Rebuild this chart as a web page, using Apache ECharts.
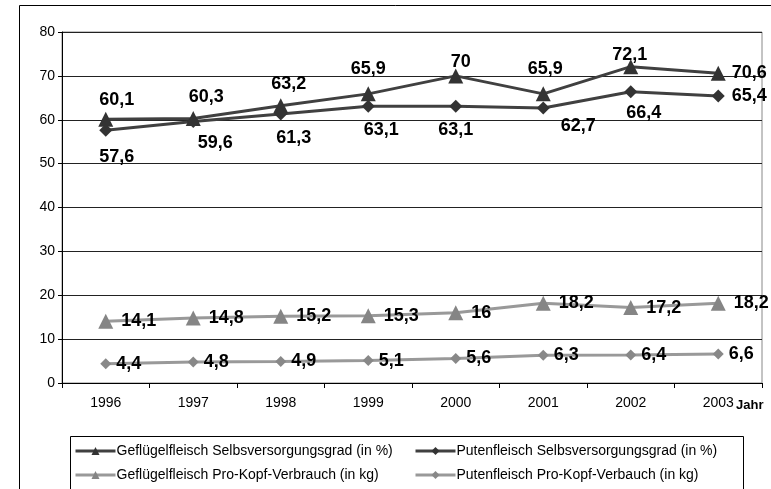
<!DOCTYPE html>
<html>
<head>
<meta charset="utf-8">
<script src="https://cdn.jsdelivr.net/npm/echarts@6/dist/echarts.min.js"></script>
<style>
  html, body { margin: 0; padding: 0; background: #fff; }
  #chart { width: 771px; height: 489px; }
</style>
</head>
<body>
<div id="chart"></div>
<script>
// categories (years)
const years = ["1996", "1997", "1998", "1999", "2000", "2001", "2002", "2003"];

// series values
const gefluegelSvg = [60.1, 60.3, 63.2, 65.9, 70, 65.9, 72.1, 70.6];
const putenSvg = [57.6, 59.6, 61.3, 63.1, 63.1, 62.7, 66.4, 65.4];
const gefluegelPkv = [14.1, 14.8, 15.2, 15.3, 16, 18.2, 17.2, 18.2];
const putenPkv = [4.4, 4.8, 4.9, 5.1, 5.6, 6.3, 6.4, 6.6];

const seriesNames = [
  "Geflügelfleisch Selbsversorgungsgrad (in %)",
  "Putenfleisch Selbsversorgungsgrad (in %)",
  "Geflügelfleisch Pro-Kopf-Verbrauch (in kg)",
  "Putenfleisch Pro-Kopf-Verbauch (in kg)"
];

// label nudges, as in the original excel layout
const svgTopOffsets = [[11, 2], [13, 0], [8, 0], [0, -3], [5, 8], [2, -3], [-1, 10]];
const svgBottomOffsets = [[11, 6], [22, 1], [13, 3], [13, 3], [0, 3], [35, -2], [13, 1]];

const fmt = (p) => String(p.value).replace(".", ",");
const labelFont = {
  fontFamily: "Liberation Sans, Arial, sans-serif",
  fontWeight: "bold",
  fontSize: 18,
  color: "#000"
};

function withLabels(values, position, offsets, lastDistance) {
  return values.map((v, i) => {
    if (i === values.length - 1 && lastDistance != null) {
      return { value: v, label: { position: "right", distance: lastDistance } };
    }
    if (offsets) {
      return { value: v, label: { position: position, offset: offsets[i] } };
    }
    return v;
  });
}

var chart = echarts.init(document.getElementById("chart"));

const legendBase = {
  orient: "vertical",
  top: 443,
  padding: 0,
  height: 46,
  itemWidth: 40,
  itemHeight: 10,
  itemGap: 8,
  lineStyle: { width: 3 },
  textStyle: { fontSize: 14, color: "#000", lineHeight: 16, padding: [0, 0, 0, -4] }
};

const option = {
  animation: false,
  textStyle: { fontFamily: "Liberation Sans, Arial, sans-serif" },
  grid: { left: 62, top: 32, right: 9, bottom: 106, show: true, borderColor: "#888", borderWidth: 1 },
  legend: [
    Object.assign({ data: [seriesNames[0], seriesNames[2]], left: 74 }, legendBase),
    Object.assign({ data: [seriesNames[1], seriesNames[3]], left: 414 }, legendBase)
  ],
  xAxis: {
    type: "category",
    data: years,
    boundaryGap: true,
    axisLine: { lineStyle: { color: "#000", width: 1 } },
    axisTick: { show: true, length: 5, lineStyle: { color: "#000" } },
    axisLabel: { color: "#000", fontSize: 14, margin: 13 }
  },
  yAxis: {
    type: "value",
    min: 0,
    max: 80,
    interval: 10,
    axisLine: { show: true, lineStyle: { color: "#000", width: 1 } },
    axisTick: { show: true, length: 4, lineStyle: { color: "#000" } },
    axisLabel: { color: "#000", fontSize: 14, margin: 7 },
    splitLine: { lineStyle: { color: "#222", width: 1 } }
  },
  series: [
    {
      name: seriesNames[0],
      type: "line",
      symbol: "triangle",
      symbolSize: 15,
      itemStyle: { color: "#333" },
      lineStyle: { color: "#404040", width: 3 },
      label: Object.assign({ show: true, position: "top", formatter: fmt }, labelFont),
      data: withLabels(gefluegelSvg, "top", svgTopOffsets, 6)
    },
    {
      name: seriesNames[1],
      type: "line",
      symbol: "diamond",
      symbolSize: 13,
      itemStyle: { color: "#333" },
      lineStyle: { color: "#404040", width: 3 },
      label: Object.assign({ show: true, position: "bottom", formatter: fmt }, labelFont),
      data: withLabels(putenSvg, "bottom", svgBottomOffsets, 7)
    },
    {
      name: seriesNames[2],
      type: "line",
      symbol: "triangle",
      symbolSize: 15,
      itemStyle: { color: "#858585" },
      lineStyle: { color: "#999", width: 3 },
      label: Object.assign({ show: true, position: "right", distance: 8, formatter: fmt }, labelFont),
      data: gefluegelPkv
    },
    {
      name: seriesNames[3],
      type: "line",
      symbol: "diamond",
      symbolSize: 11,
      itemStyle: { color: "#888" },
      lineStyle: { color: "#999", width: 3 },
      label: Object.assign({ show: true, position: "right", distance: 5, formatter: fmt }, labelFont),
      data: putenPkv
    }
  ],
  graphic: [
    {
      type: "rect",
      shape: { x: 19.5, y: 5.5, width: 770, height: 500 },
      style: { fill: "none", stroke: "#000", lineWidth: 1 },
      silent: true
    },
    {
      type: "rect",
      shape: { x: 70.5, y: 436.5, width: 673, height: 70 },
      style: { fill: "none", stroke: "#000", lineWidth: 1 },
      silent: true
    },
    {
      type: "text",
      left: 736,
      top: 399,
      style: {
        text: "Jahr",
        fill: "#000",
        font: "bold 13px Liberation Sans, Arial, sans-serif"
      }
    }
  ]
};

chart.setOption(option);
</script>
</body>
</html>
